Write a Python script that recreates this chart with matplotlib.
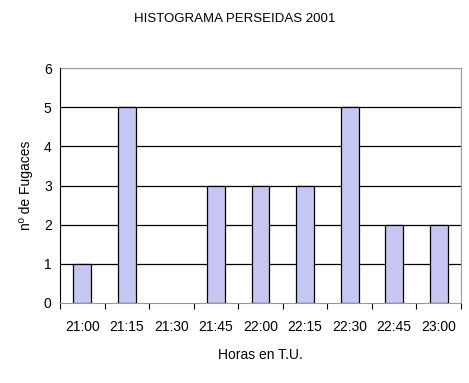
import matplotlib
matplotlib.use('Agg')
import matplotlib.pyplot as plt

plt.rcParams['font.family'] = ['Liberation Sans', 'DejaVu Sans']

horas = ['21:00', '21:15', '21:30', '21:45', '22:00', '22:15', '22:30', '22:45', '23:00']
fugaces = [1, 5, 0, 3, 3, 3, 5, 2, 2]

fig = plt.figure(figsize=(4.69, 3.83), dpi=100)
ax = fig.add_axes([60 / 469, 80 / 383, 401 / 469, 235 / 383])

x = range(len(horas))
# no outline for empty bins
anchos = [0.9 if v > 0 else 0 for v in fugaces]
ax.bar(x, fugaces, width=0.4, color='#c6c6f2', edgecolor='black', linewidth=anchos, zorder=3)

ax.set_xlim(-0.5, len(horas) - 0.5)
ax.set_ylim(0, 6)
ax.set_yticks(range(0, 7))
for y in range(1, 6):
    ax.axhline(y, color='black', linewidth=0.9, zorder=1)
ax.axhline(6, color='#999999', linewidth=0.9, zorder=1)

ax.set_xticks(list(x))
ax.set_xticklabels(horas, fontsize=10)
ax.set_xticks([i - 0.5 for i in range(len(horas) + 1)], minor=True)
ax.tick_params(axis='x', which='major', length=0, pad=12)
ax.tick_params(axis='x', which='minor', length=4, direction='out', width=0.8)
ax.tick_params(axis='y', length=0, labelsize=10, pad=6)

ax.spines['top'].set_visible(False)
ax.spines['right'].set_color('#999999')
ax.spines['left'].set_color('black')
ax.spines['bottom'].set_color('#999999')

ax.set_ylabel('nº de Fugaces', fontsize=10, labelpad=8)
ax.set_xlabel('Horas en T.U.', fontsize=10, labelpad=10)
fig.suptitle('HISTOGRAMA PERSEIDAS 2001', fontsize=9.5, y=0.965)

fig.savefig('out.png', dpi=100)
